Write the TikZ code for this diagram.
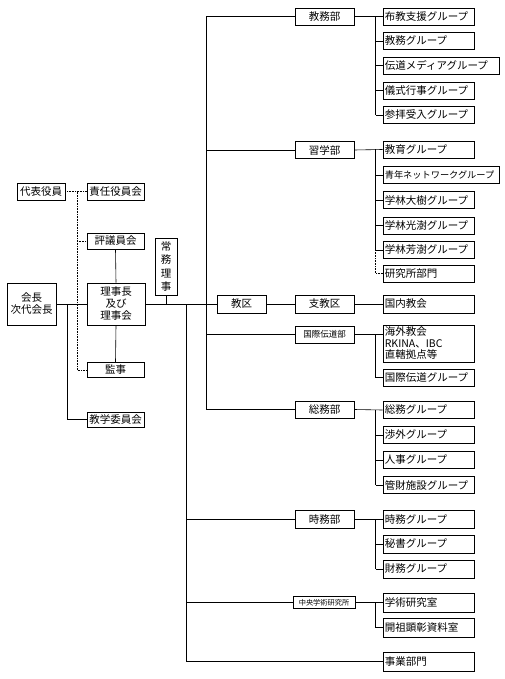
\documentclass[tikz,border=0pt]{standalone}
\usepackage{fontspec}
\setmainfont{Noto Sans CJK JP}
\newcommand{\fsn}{\fontsize{10.5}{11.5}\selectfont}
\newcommand{\fss}{\fontsize{8.5}{10}\selectfont}
\newcommand{\fst}{\fontsize{7.2}{8}\selectfont}
\begin{document}
\begin{tikzpicture}[x=1pt,y=-1pt,line width=0.6pt,
  bx/.style={draw,inner sep=0pt,minimum height=16pt,align=center,font=\fsn},
  dept/.style={bx,minimum width=59pt,minimum height=17pt},
  grp/.style={draw,inner xsep=2pt,inner ysep=0pt,minimum height=17pt,text width=87pt,align=left,anchor=west,font=\fsn},
  wgrp/.style={grp,text width=112pt},
  dots/.style={densely dotted}]
\useasboundingbox (0,0) rectangle (505,679);
% left column
\node[bx,minimum width=48pt,minimum height=17pt] (daihyo) at (41,191.5) {代表役員};
\node[bx,minimum width=57pt,minimum height=17pt] (sekinin) at (115.5,191.5) {責任役員会};
\node[bx,minimum width=57pt] (hyogi) at (115.5,241) {評議員会};
\node[bx,minimum width=49pt,minimum height=42pt,font=\fontsize{10.5}{12}\selectfont] (kaicho) at (31.5,304) {会長\\次代会長};
\node[bx,minimum width=58pt,minimum height=42pt,font=\fontsize{10.5}{12}\selectfont] (rijicho) at (116,304) {理事長\\及び\\理事会};
\node[bx,minimum width=57pt,minimum height=15pt] (kanji) at (115.5,370) {監事};
\node[bx,minimum width=57pt,minimum height=15pt] (kyogaku) at (115.5,419.5) {教学委員会};
\node[bx,minimum width=22pt,minimum height=57pt,font=\fontsize{10.5}{13.5}\selectfont] (jomu) at (166,266.5) {常\\務\\理\\事};
% department column
\node[dept] (kyomubu) at (324.5,16.5) {教務部};
\node[dept] (shugakubu) at (324.5,150) {習学部};
\node[bx,minimum width=49pt,minimum height=18pt] (kyoku) at (241.5,304) {教区};
\node[dept,minimum height=18pt] (shikyoku) at (324.5,304) {支教区};
\node[dept,font=\fss] (kokusai) at (324.5,334.5) {国際伝道部};
\node[dept] (somubu) at (324.5,409.5) {総務部};
\node[dept,minimum height=18pt] (jimubu) at (324.5,519.5) {時務部};
\node[bx,minimum width=62pt,minimum height=12pt,font=\fst] (chuo) at (324,602.5) {中央学術研究所};
% groups
\node[grp] (k1) at (382.5,16.5) {布教支援グループ};
\node[grp] (k2) at (382.5,41) {教務グループ};
\node[wgrp] (k3) at (382.5,65.5) {伝道メディアグループ};
\node[grp] (k4) at (382.5,90.5) {儀式行事グループ};
\node[grp] (k5) at (382.5,115) {参拝受入グループ};
\node[grp] (s1) at (382.5,149.5) {教育グループ};
\node[wgrp,font=\fontsize{9.2}{11}\selectfont] (s2) at (382.5,175) {青年ネットワークグループ};
\node[grp] (s3) at (382.5,200) {学林大樹グループ};
\node[grp] (s4) at (382.5,225.5) {学林光澍グループ};
\node[grp] (s5) at (382.5,250) {学林芳澍グループ};
\node[grp] (s6) at (382.5,273.5) {研究所部門};
\node[grp,minimum height=18pt] (kokunai) at (382.5,304) {国内教会};
\node[grp,minimum height=37pt,font=\fontsize{10.5}{11.5}\selectfont] (kaigai) at (382.5,343.5) {海外教会\\RKINA、IBC\\直轄拠点等};
\node[grp] (kg) at (382.5,377.5) {国際伝道グループ};
\node[grp] (m1) at (382.5,410) {総務グループ};
\node[grp] (m2) at (382.5,435) {渉外グループ};
\node[grp] (m3) at (382.5,460) {人事グループ};
\node[grp] (m4) at (382.5,485) {管財施設グループ};
\node[grp,minimum height=18pt] (j1) at (382.5,519.5) {時務グループ};
\node[grp,minimum height=18pt] (j2) at (382.5,544) {秘書グループ};
\node[grp,minimum height=18pt] (j3) at (382.5,569) {財務グループ};
\node[grp,minimum height=19pt] (c1) at (382.5,602.5) {学術研究室};
\node[grp,minimum height=19pt] (c2) at (382.5,627.5) {開祖顕彰資料室};
\node[grp,minimum height=19pt] (jigyo) at (382.5,661.5) {事業部門};
% helper coordinates
\coordinate (A) at (206,0);
\coordinate (B) at (186,0);
\coordinate (C) at (375.5,0);
\coordinate (D) at (77,0);
\coordinate (E) at (67,0);
% left connections
\draw[dots] (daihyo.east) -- (sekinin.west);
\draw[dots] (D |- daihyo.east) -- (D |- kanji.west) -- (kanji.west);
\draw[dots] (D |- hyogi.west) -- (hyogi.west);
\draw (kaicho.east) -- (rijicho.west);
\draw (E |- kaicho.east) -- (E |- kyogaku.west) -- (kyogaku.west);
\draw (hyogi.south) -- (rijicho.north);
\draw (rijicho.south) -- (kanji.north);
\draw (rijicho.east) -- (kyoku.west);
\draw (jomu.south) -- (jomu.south |- rijicho.east);
% trunks
\draw (A |- kyomubu.west) -- (A |- somubu.west);
\draw (B |- rijicho.east) -- (B |- jigyo.west);
\draw (A |- kyomubu.west) -- (kyomubu.west);
\draw (A |- shugakubu.west) -- (shugakubu.west);
\draw (A |- kokusai.west) -- (kokusai.west);
\draw (A |- somubu.west) -- (somubu.west);
\draw (B |- jimubu.west) -- (jimubu.west);
\draw (B |- chuo.west) -- (chuo.west);
\draw (B |- jigyo.west) -- (jigyo.west);
\draw (kyoku.east) -- (shikyoku.west);
\draw (shikyoku.east) -- (kokunai.west);
% branches
\draw (kyomubu.east) -- (k1.west);
\draw (C |- k1.west) -- (C |- k5.west);
\foreach \n in {k2,k3,k4,k5} \draw (C |- \n.west) -- (\n.west);
\draw (shugakubu.east) -- (s1.west);
\draw (C |- s1.west) -- (C |- s5.west);
\foreach \n in {s2,s3,s4,s5} \draw (C |- \n.west) -- (\n.west);
\draw[dots] (C |- s5.west) -- (C |- s6.west) -- (s6.west);
\draw (kokusai.east) -- (kokusai.east -| kaigai.west);
\draw (C |- kokusai.east) -- (C |- kg.west) -- (kg.west);
\draw (somubu.east) -- (m1.west);
\draw (C |- m1.west) -- (C |- m4.west);
\foreach \n in {m2,m3,m4} \draw (C |- \n.west) -- (\n.west);
\draw (jimubu.east) -- (j1.west);
\draw (C |- j1.west) -- (C |- j3.west);
\foreach \n in {j2,j3} \draw (C |- \n.west) -- (\n.west);
\draw (chuo.east) -- (c1.west);
\draw (C |- c1.west) -- (C |- c2.west) -- (c2.west);
\end{tikzpicture}
\end{document}
